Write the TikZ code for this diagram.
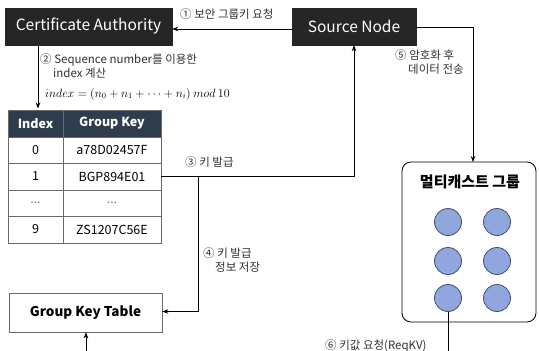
\documentclass[tikz,border=0pt]{standalone}
\usepackage[no-math]{fontspec}
\setmainfont{Noto Sans CJK KR}
\usetikzlibrary{arrows.meta,positioning}
\definecolor{boxdark}{HTML}{262626}
\definecolor{headnavy}{HTML}{2F3C4D}
\definecolor{gridline}{HTML}{6A6A6A}
\definecolor{nodefill}{HTML}{8FA7DD}
\definecolor{nodeedge}{HTML}{3F4E6E}
\definecolor{labeltext}{HTML}{303030}
\tikzset{
  darkbox/.style={draw=boxdark, fill=boxdark, text=white, font=\fontsize{15.5}{18}\selectfont,
    inner sep=0pt, minimum height=37pt},
  headcell/.style={draw=gridline, fill=headnavy, text=white, font=\fontsize{12.5}{14}\selectfont\bfseries,
    inner sep=0pt, minimum height=27pt},
  cell/.style={draw=gridline, fill=white, text=black, font=\fontsize{12.5}{14}\selectfont,
    inner sep=0pt, minimum height=26.5pt},
  steplabel/.style={text=labeltext, font=\fontsize{11.5}{14}\selectfont, inner sep=0pt, align=left},
  member/.style={circle, draw=nodeedge, fill=nodefill, line width=0.8pt, minimum size=27pt, inner sep=0pt},
  link/.style={draw=black, line width=0.7pt},
  arrowlink/.style={link, -{Stealth[length=6pt,width=4.5pt]}}
}
\begin{document}
\begin{tikzpicture}[x=1pt,y=-1pt]
\useasboundingbox (0,0) rectangle (539,351);
\clip (0,0) rectangle (539,351);

% main actors
\node[darkbox, minimum width=167pt] (ca) at (88.5,26.5) {Certificate Authority};
\node[darkbox, minimum width=124pt] (src) at (354,26.5) {Source Node};

% group key table (index -> key)
\node[headcell, minimum width=55pt] (h1) at (35.5,123.5) {Index};
\node[headcell, minimum width=98pt] (h2) at (112,123.5) {Group Key};
\node[cell, minimum width=55pt] (r0a) at (35.5,150) {0};
\node[cell, minimum width=98pt] (r0b) at (112,150) {a78D02457F};
\node[cell, minimum width=55pt] (r1a) at (35.5,176.5) {1};
\node[cell, minimum width=98pt] (r1b) at (112,176.5) {BGP894E01};
\node[cell, minimum width=55pt, text=gray] (r2a) at (35.5,203) {...};
\node[cell, minimum width=98pt, text=gray] (r2b) at (112,203) {...};
\node[cell, minimum width=55pt] (r3a) at (35.5,229.5) {9};
\node[cell, minimum width=98pt] (r3b) at (112,229.5) {ZS1207C56E};

% stored key table
\node[draw=gridline, fill=white, line width=0.7pt, minimum width=153pt, minimum height=39pt, inner sep=0pt,
  font=\fontsize{13.5}{16}\selectfont\bfseries] (gkt) at (85.5,312.5) {Group Key Table};

% multicast group
\node[draw=black, rounded corners=9pt, line width=0.8pt, minimum width=134pt, minimum height=160pt] (mc) at (469,242) {};
\node[font=\fontsize{15}{17}\selectfont\bfseries, inner sep=0pt] (mctitle) at (470,182) {멀티캐스트 그룹};
\node[member] (m11) at (448,222) {};
\node[member] (m12) at (497,222) {};
\node[member] (m21) at (448,261) {};
\node[member] (m22) at (497,261) {};
\node[member] (m31) at (448,298) {};
\node[member] (m32) at (497,298) {};

% helper points
\coordinate (tbltop) at (38,108.5);
\coordinate (j3) at (198,176.5);
\coordinate (gktin) at (86,360);
\coordinate (reqend) at (448,360);

% step 1: request group key
\draw[arrowlink] (src.west |- 0,29) -- (ca.east |- 0,29);
\node[steplabel, anchor=west] (l1) at (180,14) {① 보안 그룹키 요청};

% step 2: compute index
\draw[arrowlink] (ca.south -| tbltop) -- (tbltop);
\node[steplabel, anchor=north west] (l2) at (40,54) {② Sequence number를 이용한\\\hspace{13pt}index 계산};
\node[text=black, inner sep=0pt, anchor=west, font=\fontsize{11.6}{13}\selectfont] (l2f) at (45,94)
  {$index = (n_0 + n_1 + \cdots + n_i)\ mod\ 10$};

% step 3: issue key
\draw[arrowlink] (r1b.east) -- (src.south |- r1b.east) -- (src.south);
\node[steplabel, anchor=west] (l3) at (185,162) {③ 키 발급};

% step 4: store issued key
\draw[arrowlink] (j3) -- (198,311.5) -- (gkt.east |- 0,311.5);
\node[steplabel, anchor=north west] (l4) at (203,248) {④ 키 발급\\\hspace{12pt}정보 저장};

% step 5: encrypted data to the group
\draw[arrowlink] (src.east |- 0,27) -- (473,27) -- (473,162);
\node[steplabel, anchor=north west] (l5) at (395,50) {⑤ 암호화 후\\\hspace{13pt}데이터 전송};

% step 6: key request from a member
\draw[link] (m31.south) -- (reqend);
\node[steplabel, anchor=west] (l6) at (325,346) {⑥ 키값 요청(ReqKV)};

% key table lookup from below
\draw[arrowlink] (gktin) -- (gkt.south -| gktin);
\end{tikzpicture}
\end{document}
